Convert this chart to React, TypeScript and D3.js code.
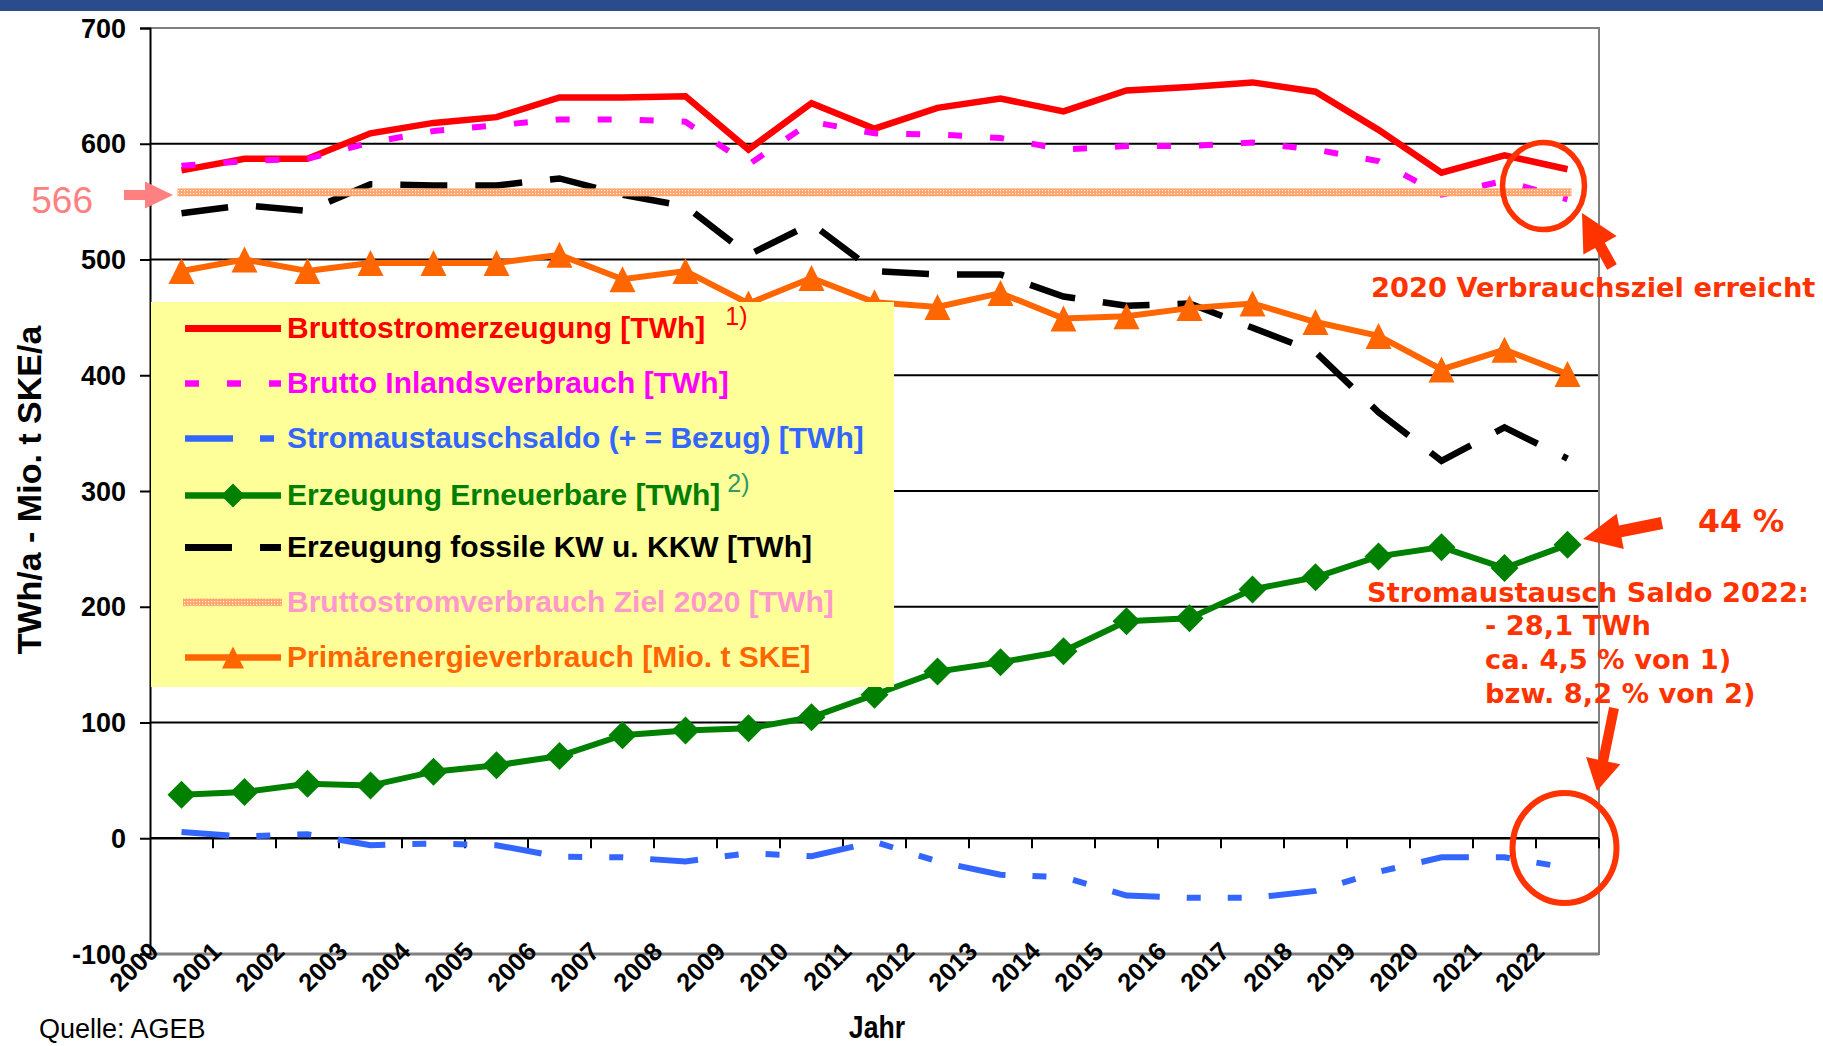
import * as d3 from 'd3'
import { useEffect, useRef } from 'react'

// Kategorien (x-Achse) und Messreihen
const YEARS = [
  '2000', '2001', '2002', '2003', '2004', '2005', '2006', '2007', '2008', '2009', '2010', '2011',
  '2012', '2013', '2014', '2015', '2016', '2017', '2018', '2019', '2020', '2021', '2022',
]
const BRUTTOSTROMERZEUGUNG = [
  577, 587, 587, 609, 618, 623, 640, 640, 641, 595, 635, 613, 631, 639, 628, 646, 649, 653, 645,
  612, 575, 590, 578,
]
const INLANDSVERBRAUCH = [
  581, 585, 587, 601, 611, 616, 621, 621, 619, 582, 619, 609, 608, 605, 595, 598, 598, 601, 595,
  585, 556, 568, 552,
]
const STROMAUSTAUSCHSALDO = [
  5.5, 1.5, 3.5, -6, -4.5, -6, -16, -16.5, -20, -13, -15.5, -3, -20, -31.5, -33.5, -49.5, -51.5,
  -51.5, -45.5, -29, -16.5, -16.5, -25.5,
]
const ERNEUERBARE = [
  37.5, 40, 47, 45.5, 57.5, 63, 71, 89, 93, 95, 104.5, 124, 144, 152, 161.5, 187.5, 190, 215,
  225.5, 243.5, 251.5, 233.5, 253.5,
]
const FOSSIL = [
  540, 547, 542, 565, 564, 564, 570, 556, 546, 504, 531, 490, 487, 487, 468, 460, 462, 441, 420,
  368, 326, 355, 328,
]
const PRIMAERENERGIE = [
  490, 500, 490, 497, 497, 497, 504, 483, 490, 462, 484, 463, 459, 471, 449, 451, 458, 462, 446,
  434, 405, 422, 401,
]
const ZIEL_2020 = 558
const ZIEL_LABEL = '566'
const Y_TICKS = [-100, 0, 100, 200, 300, 400, 500, 600, 700]

const W = 1823
const H = 1046
const P = { left: 150, right: 1599, top: 28, bottom: 954 }
const ARIAL = '"Liberation Sans", Arial, sans-serif'
const VERDANA = '"DejaVu Sans", Verdana, sans-serif'
const ANNO = '#ff3300'

type Series = {
  label: string
  values: number[]
  color: string
  width: number
  dash?: string
  marker?: 'diamond' | 'triangle'
  sup?: { text: string; color: string; gap: number }
}

const SERIES: Series[] = [
  { label: 'Bruttostromerzeugung [TWh]', values: BRUTTOSTROMERZEUGUNG, color: '#ff0000', width: 6.5, sup: { text: '1)', color: '#ff0000', gap: 20 } },
  { label: 'Brutto Inlandsverbrauch [TWh]', values: INLANDSVERBRAUCH, color: '#ff00ff', width: 6, dash: '14 28' },
  { label: 'Stromaustauschsaldo (+ = Bezug) [TWh]', values: STROMAUSTAUSCHSALDO, color: '#3366ff', width: 6, dash: '48 27 14 27 14 27' },
  { label: 'Erzeugung Erneuerbare [TWh]', values: ERNEUERBARE, color: '#008000', width: 6, marker: 'diamond', sup: { text: '2)', color: '#339966', gap: 7 } },
  { label: 'Erzeugung fossile KW u. KKW [TWh]', values: FOSSIL, color: '#000000', width: 6.5, dash: '47 28' },
]
const PRIMAER: Series = { label: 'Primärenergieverbrauch [Mio. t SKE]', values: PRIMAERENERGIE, color: '#ff6600', width: 6, marker: 'triangle' }
const ZIEL_TEXT = 'Bruttostromverbrauch Ziel 2020 [TWh]'

function markerPath(kind: 'diamond' | 'triangle', r: number) {
  if (kind === 'diamond') return `M0,${-r}L${r},0L0,${r}L${-r},0Z`
  return `M0,${-r}L${r},${r}L${-r},${r}Z`
}

// Blockpfeil als Polygon von (x1,y1) nach Spitze (x2,y2)
function arrowPoints(x1: number, y1: number, x2: number, y2: number, shaft: number, headL: number, headW: number) {
  const dx = x2 - x1
  const dy = y2 - y1
  const len = Math.hypot(dx, dy)
  const ux = dx / len
  const uy = dy / len
  const nx = -uy
  const ny = ux
  const bx = x2 - ux * headL
  const by = y2 - uy * headL
  const pts = [
    [x1 + nx * shaft / 2, y1 + ny * shaft / 2],
    [bx + nx * shaft / 2, by + ny * shaft / 2],
    [bx + nx * headW / 2, by + ny * headW / 2],
    [x2, y2],
    [bx - nx * headW / 2, by - ny * headW / 2],
    [bx - nx * shaft / 2, by - ny * shaft / 2],
    [x1 - nx * shaft / 2, y1 - ny * shaft / 2],
  ]
  return pts.map((p) => p.join(',')).join(' ')
}

export default function App() {
  const svgRef = useRef<SVGSVGElement>(null)

  useEffect(() => {
    const svgEl = svgRef.current
    if (!svgEl) return
    const svg = d3.select(svgEl)
    svg.selectAll('*').remove()

    const x = d3.scaleBand<string>().domain(YEARS).range([P.left, P.right]).padding(0)
    const cx = (i: number) => (x(YEARS[i]) ?? 0) + x.bandwidth() / 2
    const y = d3.scaleLinear().domain([-100, 700]).range([P.bottom, P.top])

    const defs = svg.append('defs')
    const pat = defs
      .append('pattern')
      .attr('id', 'zielPattern')
      .attr('patternUnits', 'userSpaceOnUse')
      .attr('width', 3)
      .attr('height', 3)
    pat.append('rect').attr('width', 3).attr('height', 3).attr('fill', '#ffa46a')
    pat.append('rect').attr('x', 1).attr('y', 1).attr('width', 1.2).attr('height', 1.2).attr('fill', '#fff2e6')

    svg.append('rect').attr('width', W).attr('height', H).attr('fill', '#ffffff')
    svg.append('rect').attr('width', W).attr('height', 11).attr('fill', '#2b4b8d')

    // Gitterlinien
    const grid = svg.append('g')
    Y_TICKS.filter((t) => t !== 0 && t !== -100 && t !== 700).forEach((t) => {
      grid
        .append('line')
        .attr('x1', P.left)
        .attr('x2', P.right)
        .attr('y1', y(t))
        .attr('y2', y(t))
        .attr('stroke', '#000')
        .attr('stroke-width', 2)
    })
    // Rahmen oben/rechts/unten grau
    grid
      .append('path')
      .attr('d', `M${P.left},${y(700)}H${P.right}V${y(-100)}H${P.left}`)
      .attr('fill', 'none')
      .attr('stroke', '#808080')
      .attr('stroke-width', 2)
    grid
      .append('line')
      .attr('x1', P.left)
      .attr('x2', P.right)
      .attr('y1', y(-100))
      .attr('y2', y(-100))
      .attr('stroke', '#808080')
      .attr('stroke-width', 3)

    // y-Achse
    const gy = svg.append('g').attr('transform', `translate(${P.left},0)`)
    gy.call(d3.axisLeft(y).tickValues(Y_TICKS).tickSize(10).tickPadding(14).tickFormat((d) => String(d)))
    gy.select('.domain').attr('stroke', '#000').attr('stroke-width', 2)
    gy.selectAll('line').attr('stroke', '#000').attr('stroke-width', 2)
    gy.selectAll('text')
      .attr('fill', '#000')
      .attr('font-family', ARIAL)
      .attr('font-weight', 'bold')
      .attr('font-size', 27)
      .attr('dy', '0.34em')

    // x-Achse bei 0
    const gx = svg.append('g').attr('transform', `translate(0,${y(0)})`)
    gx.append('line').attr('x1', P.left).attr('x2', P.right).attr('stroke', '#000').attr('stroke-width', 2.5)
    YEARS.forEach((yr) => {
      const tx = (x(yr) ?? 0) + x.bandwidth()
      gx.append('line')
        .attr('x1', tx)
        .attr('x2', tx)
        .attr('y1', 0)
        .attr('y2', 10)
        .attr('stroke', '#000')
        .attr('stroke-width', 2)
    })

    // Jahreszahlen unten, gedreht
    const xl = svg.append('g')
    YEARS.forEach((yr) => {
      const px = (x(yr) ?? 0) + 10
      xl.append('text')
        .attr('transform', `translate(${px},953) rotate(-45)`)
        .attr('text-anchor', 'end')
        .attr('font-family', ARIAL)
        .attr('font-weight', 'bold')
        .attr('font-size', 25.5)
        .attr('fill', '#000')
        .text(yr)
    })

    // Linienreihen
    const line = d3
      .line<number>()
      .x((_, i) => cx(i))
      .y((d) => y(d))

    const drawSeries = (s: Series) => {
      const g = svg.append('g')
      g.append('path')
        .attr('d', line(s.values) ?? '')
        .attr('fill', 'none')
        .attr('stroke', s.color)
        .attr('stroke-width', s.width)
        .attr('stroke-dasharray', s.dash ?? null)
        .attr('stroke-linejoin', 'miter')
      if (s.marker) {
        const r = s.marker === 'diamond' ? 14 : 13
        g.selectAll('path.mk')
          .data(s.values)
          .join('path')
          .attr('class', 'mk')
          .attr('transform', (d, i) => `translate(${cx(i)},${y(d)})`)
          .attr('d', markerPath(s.marker, r))
          .attr('fill', s.color)
      }
    }

    SERIES.forEach(drawSeries)

    // Ziel 2020 als gepunktetes Band
    svg
      .append('rect')
      .attr('x', cx(0) - 4)
      .attr('width', cx(YEARS.length - 1) - cx(0) + 8)
      .attr('y', y(ZIEL_2020) - 4)
      .attr('height', 8)
      .attr('fill', 'url(#zielPattern)')

    drawSeries(PRIMAER)

    // Legende
    const lg = svg.append('g')
    lg.append('rect').attr('x', 151).attr('y', 302).attr('width', 743).attr('height', 385).attr('fill', '#ffff99')
    const rows = [...SERIES, null, PRIMAER]
    const baselines = [338, 393, 448, 505, 557, 612, 667]
    rows.forEach((s, i) => {
      const by = baselines[i]
      const my = by - 9.5
      if (s) {
        lg.append('line')
          .attr('x1', 185)
          .attr('x2', 281)
          .attr('y1', my)
          .attr('y2', my)
          .attr('stroke', s.color)
          .attr('stroke-width', s.width + 0.5)
          .attr('stroke-dasharray', s.dash ?? null)
        if (s.marker) {
          lg.append('path')
            .attr('transform', `translate(233,${my})`)
            .attr('d', markerPath(s.marker, s.marker === 'diamond' ? 12 : 11))
            .attr('fill', s.color)
        }
        const t = lg
          .append('text')
          .attr('x', 287)
          .attr('y', by)
          .attr('font-family', ARIAL)
          .attr('font-weight', 'bold')
          .attr('font-size', 30)
          .attr('fill', s.color)
          .text(s.label)
        if (s.sup) {
          const tw = (t.node() as SVGTextElement).getComputedTextLength()
          lg.append('text')
            .attr('x', 287 + tw + s.sup.gap)
            .attr('y', by - 13)
            .attr('font-family', ARIAL)
            .attr('font-size', 25)
            .attr('fill', s.sup.color)
            .text(s.sup.text)
        }
      } else {
        lg.append('rect').attr('x', 183).attr('y', my - 4).attr('width', 99).attr('height', 7.5).attr('fill', 'url(#zielPattern)')
        lg.append('text')
          .attr('x', 287)
          .attr('y', by)
          .attr('font-family', ARIAL)
          .attr('font-weight', 'bold')
          .attr('font-size', 30)
          .attr('fill', '#ff99cc')
          .text(ZIEL_TEXT)
      }
    })

    // Achsentitel und Quelle
    svg
      .append('text')
      .attr('transform', 'translate(41,490) rotate(-90)')
      .attr('text-anchor', 'middle')
      .attr('font-family', ARIAL)
      .attr('font-weight', 'bold')
      .attr('font-size', 34)
      .attr('fill', '#000')
      .text('TWh/a  - Mio. t SKE/a')
    svg
      .append('text')
      .attr('transform', 'translate(877,1038) scale(0.86,1)')
      .attr('text-anchor', 'middle')
      .attr('font-family', ARIAL)
      .attr('font-weight', 'bold')
      .attr('font-size', 31)
      .attr('fill', '#000')
      .text('Jahr')
    svg
      .append('text')
      .attr('x', 39)
      .attr('y', 1038)
      .attr('font-family', ARIAL)
      .attr('font-size', 27)
      .attr('fill', '#000')
      .text('Quelle: AGEB')

    // Ziel-Markierung links
    svg
      .append('text')
      .attr('x', 93)
      .attr('y', 213)
      .attr('text-anchor', 'end')
      .attr('font-family', ARIAL)
      .attr('font-size', 37)
      .attr('fill', '#ff8080')
      .text(ZIEL_LABEL)
    svg
      .append('polygon')
      .attr('points', arrowPoints(124, 195, 173, 195, 10, 28, 27))
      .attr('fill', '#ff8080')

    // Annotationen rechts
    const last = YEARS.length - 1
    const an = svg.append('g')
    an.append('ellipse')
      .attr('cx', cx(last) - 24)
      .attr('cy', 186)
      .attr('rx', 41)
      .attr('ry', 43.5)
      .attr('fill', 'none')
      .attr('stroke', ANNO)
      .attr('stroke-width', 5.5)
    an.append('ellipse')
      .attr('cx', cx(last) - 3)
      .attr('cy', 848)
      .attr('rx', 52)
      .attr('ry', 55)
      .attr('fill', 'none')
      .attr('stroke', ANNO)
      .attr('stroke-width', 6)
    an.append('polygon').attr('points', arrowPoints(1612, 267, 1582, 213, 11, 37, 38)).attr('fill', ANNO)
    an.append('polygon').attr('points', arrowPoints(1662, 523, 1583, 539, 12, 38, 36)).attr('fill', ANNO)
    an.append('polygon').attr('points', arrowPoints(1614, 708, 1597, 791, 10, 31, 35)).attr('fill', ANNO)

    const anText = (tx: number, ty: number, txt: string, size = 27.3) =>
      an
        .append('text')
        .attr('x', tx)
        .attr('y', ty)
        .attr('font-family', VERDANA)
        .attr('font-weight', 'bold')
        .attr('font-size', size)
        .attr('fill', ANNO)
        .text(txt)
    anText(1371, 297, '2020 Verbrauchsziel erreicht')
    anText(1698, 532, '44 %', 31.5)
    anText(1367, 602, 'Stromaustausch Saldo 2022:')
    anText(1485, 635, '- 28,1 TWh')
    anText(1485, 669, 'ca. 4,5 % von 1)')
    anText(1485, 703, 'bzw. 8,2 % von 2)')
  }, [])

  return (
    <>
      <style>{'body{margin:0}'}</style>
      <svg ref={svgRef} width={W} height={H} style={{ display: 'block' }} />
    </>
  )
}
